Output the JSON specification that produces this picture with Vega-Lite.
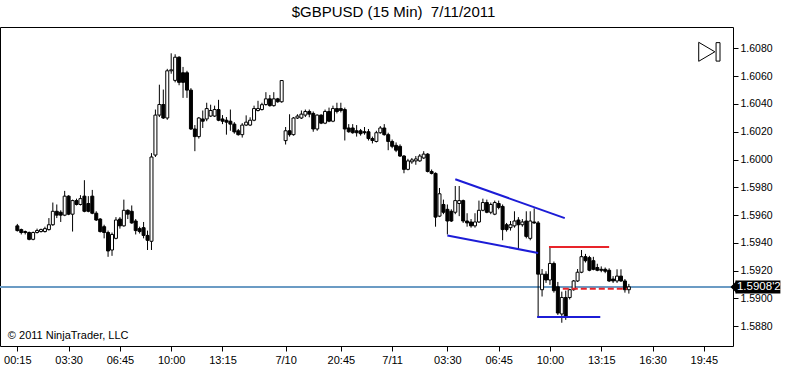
{
"$schema": "https://vega.github.io/schema/vega-lite/v6.json",
"width": 733, "height": 319,
"autosize": {"type": "none"},
"padding": {"left": 0, "top": 27, "right": 54, "bottom": 46},
"background": "white",
"config": {"view": {"stroke": "black", "strokeWidth": 1}, "font": "Liberation Sans", "axisY": {"labelOverlap": false, "labelFlush": false}, "axisX": {"labelOverlap": false, "labelFlush": false}},
"title": {"text": "$GBPUSD (15 Min) \u00a07/11/2011", "anchor": "middle", "frame": "group", "dx": 27, "offset": 7, "fontSize": 15, "fontWeight": "normal", "font": "Liberation Sans", "color": "black"},
"datasets": {
"bars": [
{"i":0,"o":1.59522,"h":1.59536,"l":1.59481,"c":1.59488},
{"i":1,"o":1.59495,"h":1.59502,"l":1.59460,"c":1.59474},
{"i":2,"o":1.59481,"h":1.59488,"l":1.59460,"c":1.59474},
{"i":3,"o":1.59474,"h":1.59481,"l":1.59418,"c":1.59425},
{"i":4,"o":1.59425,"h":1.59481,"l":1.59418,"c":1.59474},
{"i":5,"o":1.59474,"h":1.59502,"l":1.59467,"c":1.59488},
{"i":6,"o":1.59481,"h":1.59502,"l":1.59474,"c":1.59495},
{"i":7,"o":1.59481,"h":1.59516,"l":1.59474,"c":1.59502},
{"i":8,"o":1.59495,"h":1.59578,"l":1.59488,"c":1.59530},
{"i":9,"o":1.59530,"h":1.59690,"l":1.59522,"c":1.59627},
{"i":10,"o":1.59627,"h":1.59676,"l":1.59578,"c":1.59599},
{"i":11,"o":1.59620,"h":1.59634,"l":1.59550,"c":1.59599},
{"i":12,"o":1.59599,"h":1.59774,"l":1.59592,"c":1.59736},
{"i":13,"o":1.59736,"h":1.59743,"l":1.59599,"c":1.59606},
{"i":14,"o":1.59606,"h":1.59711,"l":1.59481,"c":1.59704},
{"i":15,"o":1.59704,"h":1.59718,"l":1.59669,"c":1.59676},
{"i":16,"o":1.59676,"h":1.59743,"l":1.59669,"c":1.59718},
{"i":17,"o":1.59736,"h":1.59851,"l":1.59620,"c":1.59627},
{"i":18,"o":1.59683,"h":1.59736,"l":1.59620,"c":1.59627},
{"i":19,"o":1.59736,"h":1.59781,"l":1.59606,"c":1.59613},
{"i":20,"o":1.59613,"h":1.59627,"l":1.59557,"c":1.59564},
{"i":21,"o":1.59571,"h":1.59578,"l":1.59474,"c":1.59481},
{"i":22,"o":1.59516,"h":1.59530,"l":1.59432,"c":1.59474},
{"i":23,"o":1.59474,"h":1.59488,"l":1.59299,"c":1.59341},
{"i":24,"o":1.59348,"h":1.59474,"l":1.59306,"c":1.59460},
{"i":25,"o":1.59432,"h":1.59585,"l":1.59425,"c":1.59564},
{"i":26,"o":1.59571,"h":1.59585,"l":1.59502,"c":1.59522},
{"i":27,"o":1.59522,"h":1.59711,"l":1.59516,"c":1.59634},
{"i":28,"o":1.59634,"h":1.59641,"l":1.59571,"c":1.59606},
{"i":29,"o":1.59627,"h":1.59669,"l":1.59537,"c":1.59543},
{"i":30,"o":1.59557,"h":1.59571,"l":1.59460,"c":1.59488},
{"i":31,"o":1.59502,"h":1.59516,"l":1.59467,"c":1.59481},
{"i":32,"o":1.59509,"h":1.59550,"l":1.59432,"c":1.59453},
{"i":33,"o":1.59453,"h":1.59488,"l":1.59348,"c":1.59418},
{"i":34,"o":1.59411,"h":1.60046,"l":1.59348,"c":1.60018},
{"i":35,"o":1.60032,"h":1.60360,"l":1.60018,"c":1.60320},
{"i":36,"o":1.60320,"h":1.60539,"l":1.60306,"c":1.60396},
{"i":37,"o":1.60396,"h":1.60504,"l":1.60292,"c":1.60299},
{"i":38,"o":1.60299,"h":1.60653,"l":1.60286,"c":1.60639},
{"i":39,"o":1.60639,"h":1.60765,"l":1.60618,"c":1.60646},
{"i":40,"o":1.60570,"h":1.60758,"l":1.60556,"c":1.60737},
{"i":41,"o":1.60737,"h":1.60744,"l":1.60535,"c":1.60556},
{"i":42,"o":1.60625,"h":1.60667,"l":1.60444,"c":1.60556},
{"i":43,"o":1.60625,"h":1.60639,"l":1.60444,"c":1.60500},
{"i":44,"o":1.60500,"h":1.60514,"l":1.60213,"c":1.60220},
{"i":45,"o":1.60220,"h":1.60248,"l":1.60060,"c":1.60165},
{"i":46,"o":1.60165,"h":1.60306,"l":1.60151,"c":1.60299},
{"i":47,"o":1.60292,"h":1.60353,"l":1.60227,"c":1.60276},
{"i":48,"o":1.60292,"h":1.60409,"l":1.60276,"c":1.60367},
{"i":49,"o":1.60313,"h":1.60395,"l":1.60306,"c":1.60353},
{"i":50,"o":1.60313,"h":1.60388,"l":1.60306,"c":1.60360},
{"i":51,"o":1.60360,"h":1.60430,"l":1.60276,"c":1.60283},
{"i":52,"o":1.60292,"h":1.60320,"l":1.60255,"c":1.60276},
{"i":53,"o":1.60283,"h":1.60306,"l":1.60179,"c":1.60269},
{"i":54,"o":1.60276,"h":1.60360,"l":1.60207,"c":1.60255},
{"i":55,"o":1.60255,"h":1.60269,"l":1.60186,"c":1.60199},
{"i":56,"o":1.60207,"h":1.60220,"l":1.60172,"c":1.60179},
{"i":57,"o":1.60179,"h":1.60262,"l":1.60158,"c":1.60248},
{"i":58,"o":1.60248,"h":1.60318,"l":1.60241,"c":1.60269},
{"i":59,"o":1.60248,"h":1.60304,"l":1.60241,"c":1.60283},
{"i":60,"o":1.60283,"h":1.60388,"l":1.60276,"c":1.60367},
{"i":61,"o":1.60353,"h":1.60423,"l":1.60346,"c":1.60367},
{"i":62,"o":1.60360,"h":1.60409,"l":1.60353,"c":1.60395},
{"i":63,"o":1.60396,"h":1.60485,"l":1.60388,"c":1.60437},
{"i":64,"o":1.60437,"h":1.60465,"l":1.60381,"c":1.60388},
{"i":65,"o":1.60388,"h":1.60485,"l":1.60381,"c":1.60437},
{"i":66,"o":1.60437,"h":1.60444,"l":1.60409,"c":1.60416},
{"i":67,"o":1.60416,"h":1.60569,"l":1.60409,"c":1.60569},
{"i":68,"o":1.60136,"h":1.60234,"l":1.60108,"c":1.60207},
{"i":69,"o":1.60207,"h":1.60326,"l":1.60165,"c":1.60179},
{"i":70,"o":1.60179,"h":1.60306,"l":1.60172,"c":1.60299},
{"i":71,"o":1.60299,"h":1.60326,"l":1.60292,"c":1.60313},
{"i":72,"o":1.60299,"h":1.60353,"l":1.60292,"c":1.60327},
{"i":73,"o":1.60320,"h":1.60360,"l":1.60306,"c":1.60346},
{"i":74,"o":1.60346,"h":1.60360,"l":1.60304,"c":1.60327},
{"i":75,"o":1.60332,"h":1.60346,"l":1.60200,"c":1.60220},
{"i":76,"o":1.60220,"h":1.60325,"l":1.60207,"c":1.60320},
{"i":77,"o":1.60320,"h":1.60325,"l":1.60255,"c":1.60262},
{"i":78,"o":1.60262,"h":1.60360,"l":1.60255,"c":1.60346},
{"i":79,"o":1.60346,"h":1.60374,"l":1.60269,"c":1.60276},
{"i":80,"o":1.60276,"h":1.60388,"l":1.60269,"c":1.60367},
{"i":81,"o":1.60367,"h":1.60409,"l":1.60332,"c":1.60346},
{"i":82,"o":1.60367,"h":1.60409,"l":1.60339,"c":1.60353},
{"i":83,"o":1.60360,"h":1.60374,"l":1.60137,"c":1.60220},
{"i":84,"o":1.60227,"h":1.60255,"l":1.60193,"c":1.60200},
{"i":85,"o":1.60227,"h":1.60255,"l":1.60186,"c":1.60193},
{"i":86,"o":1.60207,"h":1.60248,"l":1.60165,"c":1.60193},
{"i":87,"o":1.60207,"h":1.60220,"l":1.60172,"c":1.60186},
{"i":88,"o":1.60200,"h":1.60234,"l":1.60179,"c":1.60193},
{"i":89,"o":1.60200,"h":1.60220,"l":1.60137,"c":1.60151},
{"i":90,"o":1.60151,"h":1.60165,"l":1.60116,"c":1.60137},
{"i":91,"o":1.60130,"h":1.60207,"l":1.60123,"c":1.60193},
{"i":92,"o":1.60193,"h":1.60241,"l":1.60186,"c":1.60227},
{"i":93,"o":1.60227,"h":1.60255,"l":1.60172,"c":1.60179},
{"i":94,"o":1.60179,"h":1.60193,"l":1.60067,"c":1.60130},
{"i":95,"o":1.60130,"h":1.60144,"l":1.60081,"c":1.60095},
{"i":96,"o":1.60102,"h":1.60123,"l":1.60053,"c":1.60067},
{"i":97,"o":1.60095,"h":1.60109,"l":1.60018,"c":1.60025},
{"i":98,"o":1.60025,"h":1.60032,"l":1.59901,"c":1.59929},
{"i":99,"o":1.59929,"h":1.60005,"l":1.59922,"c":1.59990},
{"i":100,"o":1.59983,"h":1.60011,"l":1.59969,"c":1.59997},
{"i":101,"o":1.59990,"h":1.60025,"l":1.59962,"c":1.60004},
{"i":102,"o":1.59990,"h":1.60039,"l":1.59983,"c":1.60025},
{"i":103,"o":1.60011,"h":1.60060,"l":1.60004,"c":1.60039},
{"i":104,"o":1.60039,"h":1.60046,"l":1.59907,"c":1.59914},
{"i":105,"o":1.59914,"h":1.59928,"l":1.59893,"c":1.59900},
{"i":106,"o":1.59900,"h":1.59907,"l":1.59516,"c":1.59585},
{"i":107,"o":1.59592,"h":1.59795,"l":1.59585,"c":1.59753},
{"i":108,"o":1.59676,"h":1.59711,"l":1.59606,"c":1.59620},
{"i":109,"o":1.59641,"h":1.59676,"l":1.59460,"c":1.59557},
{"i":110,"o":1.59627,"h":1.59641,"l":1.59550,"c":1.59557},
{"i":111,"o":1.59620,"h":1.59809,"l":1.59606,"c":1.59704},
{"i":112,"o":1.59683,"h":1.59809,"l":1.59592,"c":1.59704},
{"i":113,"o":1.59704,"h":1.59711,"l":1.59543,"c":1.59557},
{"i":114,"o":1.59557,"h":1.59613,"l":1.59516,"c":1.59543},
{"i":115,"o":1.59550,"h":1.59571,"l":1.59509,"c":1.59522},
{"i":116,"o":1.59522,"h":1.59613,"l":1.59509,"c":1.59550},
{"i":117,"o":1.59550,"h":1.59704,"l":1.59543,"c":1.59634},
{"i":118,"o":1.59634,"h":1.59718,"l":1.59627,"c":1.59690},
{"i":119,"o":1.59690,"h":1.59711,"l":1.59613,"c":1.59620},
{"i":120,"o":1.59620,"h":1.59690,"l":1.59606,"c":1.59676},
{"i":121,"o":1.59606,"h":1.59704,"l":1.59599,"c":1.59690},
{"i":122,"o":1.59683,"h":1.59704,"l":1.59641,"c":1.59655},
{"i":123,"o":1.59662,"h":1.59676,"l":1.59418,"c":1.59495},
{"i":124,"o":1.59530,"h":1.59543,"l":1.59481,"c":1.59495},
{"i":125,"o":1.59509,"h":1.59557,"l":1.59488,"c":1.59530},
{"i":126,"o":1.59522,"h":1.59627,"l":1.59509,"c":1.59557},
{"i":127,"o":1.59564,"h":1.59585,"l":1.59355,"c":1.59530},
{"i":128,"o":1.59530,"h":1.59571,"l":1.59516,"c":1.59550},
{"i":129,"o":1.59557,"h":1.59627,"l":1.59432,"c":1.59446},
{"i":130,"o":1.59432,"h":1.59627,"l":1.59418,"c":1.59557},
{"i":131,"o":1.59550,"h":1.59648,"l":1.59537,"c":1.59543},
{"i":132,"o":1.59543,"h":1.59557,"l":1.58866,"c":1.59174},
{"i":133,"o":1.59062,"h":1.59211,"l":1.59013,"c":1.59174},
{"i":134,"o":1.59174,"h":1.59195,"l":1.59111,"c":1.59132},
{"i":135,"o":1.59132,"h":1.59369,"l":1.59097,"c":1.59251},
{"i":136,"o":1.59251,"h":1.59265,"l":1.59041,"c":1.59055},
{"i":137,"o":1.59083,"h":1.59118,"l":1.58880,"c":1.58894},
{"i":138,"o":1.58887,"h":1.59048,"l":1.58824,"c":1.59006},
{"i":139,"o":1.59006,"h":1.59055,"l":1.58845,"c":1.58866},
{"i":140,"o":1.59006,"h":1.59069,"l":1.58992,"c":1.59062},
{"i":141,"o":1.59062,"h":1.59132,"l":1.59055,"c":1.59125},
{"i":142,"o":1.59125,"h":1.59211,"l":1.59118,"c":1.59188},
{"i":143,"o":1.59188,"h":1.59348,"l":1.59181,"c":1.59300},
{"i":144,"o":1.59300,"h":1.59320,"l":1.59258,"c":1.59271},
{"i":145,"o":1.59293,"h":1.59306,"l":1.59195,"c":1.59202},
{"i":146,"o":1.59271,"h":1.59299,"l":1.59202,"c":1.59209},
{"i":147,"o":1.59222,"h":1.59249,"l":1.59195,"c":1.59202},
{"i":148,"o":1.59209,"h":1.59230,"l":1.59188,"c":1.59202},
{"i":149,"o":1.59209,"h":1.59222,"l":1.59181,"c":1.59195},
{"i":150,"o":1.59202,"h":1.59216,"l":1.59118,"c":1.59125},
{"i":151,"o":1.59139,"h":1.59160,"l":1.59111,"c":1.59125},
{"i":152,"o":1.59125,"h":1.59209,"l":1.59111,"c":1.59160},
{"i":153,"o":1.59160,"h":1.59209,"l":1.59118,"c":1.59125},
{"i":154,"o":1.59125,"h":1.59139,"l":1.59041,"c":1.59062},
{"i":155,"o":1.59062,"h":1.59104,"l":1.59034,"c":1.59083}
],
"lines": [
{"name":"wedge top","kind":"blue","a":111,"b":138.75,"pa":1.59858,"pb":1.59578},
{"name":"wedge bottom","kind":"blue","a":109,"b":132,"pa":1.59453,"pb":1.59327},
{"name":"support","kind":"blue","a":131.75,"b":147.75,"pa":1.58866,"pb":1.58866},
{"name":"resistance","kind":"red","a":134.75,"b":150,"pa":1.59369,"pb":1.59369},
{"name":"mid","kind":"reddash","a":138.25,"b":154.5,"pa":1.59069,"pb":1.59069}
],
"last": [{"p":1.59082,"label":"1.5908'2"}]
},
"layer": [
{"data": {"name": "last"}, "mark": {"type": "rule", "color": "#6b9bc4", "strokeWidth": 2},
 "encoding": {"y": {"field": "p", "type": "quantitative", "scale": {"domain": [1.586925, 1.609186], "nice": false, "zero": false},
    "axis": {"orient": "right", "title": null, "grid": false, "domain": false, "values": [1.588,1.590,1.592,1.594,1.596,1.598,1.600,1.602,1.604,1.606,1.608], "tickCount": 30, "format": ".4f",
      "tickSize": 5, "tickColor": "black", "labelColor": "black", "labelFont": "Liberation Sans", "labelFontSize": 10.5, "labelPadding": 2, "labelOverlap": false, "labelFlush": false}}}},
{"data": {"name": "bars"}, "mark": {"type": "rule", "color": "black", "strokeWidth": 1},
 "encoding": {
  "x": {"field": "i", "type": "quantitative", "scale": {"domain": [-3.125, 180.125], "nice": false, "zero": false}, "title": null, "axis": {"labelOverlap": false, "tickCount": 30}},
  "y": {"field": "l", "type": "quantitative", "scale": {"domain": [1.586925, 1.609186], "nice": false, "zero": false}, "title": null, "axis": {"labelOverlap": false, "tickCount": 30}},
  "y2": {"field": "h"}}},
{"data": {"name": "bars"}, "mark": {"type": "bar", "width": 3, "stroke": "black", "strokeWidth": 1},
 "encoding": {
  "x": {"field": "i", "type": "quantitative", "scale": {"domain": [-3.125, 180.125], "nice": false, "zero": false},
    "axis": {"orient": "bottom", "title": null, "grid": false, "domain": false, "values": [0,13,26,39,52,68,82,95,109,122,135,148,161,174], "tickCount": 30,
      "labelExpr": "['00:15','03:30','06:45','10:00','13:15','7/10','20:45','7/11','03:30','06:45','10:00','13:15','16:30','19:45'][indexof([0,13,26,39,52,68,82,95,109,122,135,148,161,174], datum.value)]",
      "tickSize": 5, "tickColor": "black", "labelColor": "black", "labelFont": "Liberation Sans", "labelFontSize": 11, "labelPadding": 3, "labelOverlap": false, "labelFlush": false}},
  "y": {"field": "o", "type": "quantitative", "scale": {"domain": [1.586925, 1.609186], "nice": false, "zero": false},
    "axis": {"orient": "right", "title": null, "grid": false, "domain": false, "values": [1.588,1.590,1.592,1.594,1.596,1.598,1.600,1.602,1.604,1.606,1.608], "tickCount": 30, "format": ".4f",
      "tickSize": 5, "tickColor": "black", "labelColor": "black", "labelFont": "Liberation Sans", "labelFontSize": 10.5, "labelPadding": 2, "labelOverlap": false, "labelFlush": false}},
  "y2": {"field": "c"},
  "fill": {"condition": {"test": "datum.c >= datum.o", "value": "white"}, "value": "black"}}},
{"data": {"name": "lines"}, "transform": [{"filter": "datum.kind == 'blue'"}], "mark": {"type": "rule", "color": "#1c1cd6", "strokeWidth": 2},
 "encoding": {
  "x": {"field": "a", "type": "quantitative", "scale": {"domain": [-3.125, 180.125], "nice": false, "zero": false}, "title": null, "axis": {"labelOverlap": false, "tickCount": 30}},
  "x2": {"field": "b"},
  "y": {"field": "pa", "type": "quantitative", "scale": {"domain": [1.586925, 1.609186], "nice": false, "zero": false}, "title": null, "axis": {"labelOverlap": false, "tickCount": 30}},
  "y2": {"field": "pb"}}},
{"data": {"name": "lines"}, "transform": [{"filter": "datum.kind == 'red'"}], "mark": {"type": "rule", "color": "#e8242a", "strokeWidth": 2},
 "encoding": {
  "x": {"field": "a", "type": "quantitative", "scale": {"domain": [-3.125, 180.125], "nice": false, "zero": false}, "title": null, "axis": {"labelOverlap": false, "tickCount": 30}},
  "x2": {"field": "b"},
  "y": {"field": "pa", "type": "quantitative", "scale": {"domain": [1.586925, 1.609186], "nice": false, "zero": false}, "title": null, "axis": {"labelOverlap": false, "tickCount": 30}},
  "y2": {"field": "pb"}}},
{"data": {"name": "lines"}, "transform": [{"filter": "datum.kind == 'reddash'"}], "mark": {"type": "rule", "color": "#e8242a", "strokeWidth": 2, "strokeDash": [6, 3]},
 "encoding": {
  "x": {"field": "a", "type": "quantitative", "scale": {"domain": [-3.125, 180.125], "nice": false, "zero": false}, "title": null, "axis": {"labelOverlap": false, "tickCount": 30}},
  "x2": {"field": "b"},
  "y": {"field": "pa", "type": "quantitative", "scale": {"domain": [1.586925, 1.609186], "nice": false, "zero": false}, "title": null, "axis": {"labelOverlap": false, "tickCount": 30}},
  "y2": {"field": "pb"}}},
{"data": {"name": "last"}, "mark": {"type": "bar", "height": 13, "color": "black"},
 "encoding": {
  "x": {"datum": 182.0, "type": "quantitative", "scale": {"domain": [-3.125, 180.125], "nice": false, "zero": false}, "title": null, "axis": {"labelOverlap": false, "tickCount": 30}},
  "x2": {"datum": 193.4},
  "y": {"field": "p", "type": "quantitative", "scale": {"domain": [1.586925, 1.609186], "nice": false, "zero": false}, "title": null, "axis": {"labelOverlap": false, "tickCount": 30}}}},
{"data": {"name": "last"}, "mark": {"type": "point", "shape": "M-1,0L0,-1L0,1Z", "size": 169, "filled": true, "color": "black", "opacity": 1},
 "encoding": {
  "x": {"datum": 182.4, "type": "quantitative", "scale": {"domain": [-3.125, 180.125], "nice": false, "zero": false}, "title": null, "axis": {"labelOverlap": false, "tickCount": 30}},
  "y": {"field": "p", "type": "quantitative", "scale": {"domain": [1.586925, 1.609186], "nice": false, "zero": false}, "title": null, "axis": {"labelOverlap": false, "tickCount": 30}}}},
{"data": {"name": "last"}, "mark": {"type": "text", "color": "white", "align": "left", "baseline": "middle", "font": "Liberation Sans", "fontSize": 11.5},
 "encoding": {
  "x": {"datum": 182.4, "type": "quantitative", "scale": {"domain": [-3.125, 180.125], "nice": false, "zero": false}, "title": null, "axis": {"labelOverlap": false, "tickCount": 30}},
  "y": {"field": "p", "type": "quantitative", "scale": {"domain": [1.586925, 1.609186], "nice": false, "zero": false}, "title": null, "axis": {"labelOverlap": false, "tickCount": 30}},
  "text": {"field": "label"}}},
{"data": {"values": [{"t": "\u00a9 2011 NinjaTrader, LLC"}]}, "mark": {"type": "text", "color": "black", "align": "left", "baseline": "alphabetic", "font": "Liberation Sans", "fontSize": 11},
 "encoding": {
  "x": {"datum": -2.4, "type": "quantitative", "scale": {"domain": [-3.125, 180.125], "nice": false, "zero": false}, "title": null, "axis": {"labelOverlap": false, "tickCount": 30}},
  "y": {"datum": 1.58707, "type": "quantitative", "scale": {"domain": [1.586925, 1.609186], "nice": false, "zero": false}, "title": null, "axis": {"labelOverlap": false, "tickCount": 30}},
  "text": {"field": "t"}}},
{"data": {"values": [{"icon": "play-end"}]}, "mark": {"type": "point", "shape": "M-0.85,-1L0.85,0L-0.85,1Z", "size": 361, "filled": false, "color": "black", "strokeWidth": 1, "opacity": 1},
 "encoding": {
  "x": {"datum": 174.75, "type": "quantitative", "scale": {"domain": [-3.125, 180.125], "nice": false, "zero": false}, "title": null, "axis": {"labelOverlap": false, "tickCount": 30}},
  "y": {"datum": 1.60776, "type": "quantitative", "scale": {"domain": [1.586925, 1.609186], "nice": false, "zero": false}, "title": null, "axis": {"labelOverlap": false, "tickCount": 30}}}},
{"data": {"values": [{"icon": "play-end"}]}, "mark": {"type": "rect", "fill": "white", "stroke": "black", "strokeWidth": 1},
 "encoding": {
  "x": {"datum": 177.1, "type": "quantitative", "scale": {"domain": [-3.125, 180.125], "nice": false, "zero": false}, "title": null, "axis": {"labelOverlap": false, "tickCount": 30}},
  "x2": {"datum": 178.1},
  "y": {"datum": 1.60842, "type": "quantitative", "scale": {"domain": [1.586925, 1.609186], "nice": false, "zero": false}, "title": null, "axis": {"labelOverlap": false, "tickCount": 30}},
  "y2": {"datum": 1.60709}}}
]
}
